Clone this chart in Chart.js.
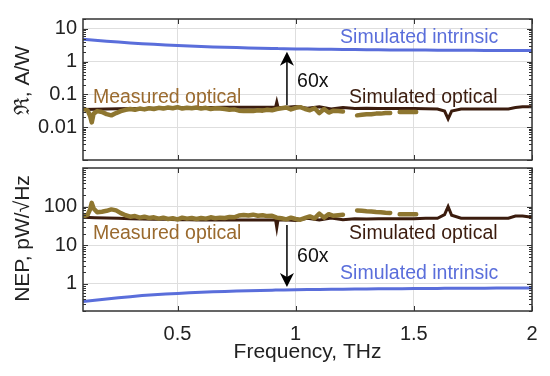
<!DOCTYPE html>
<html>
<head>
<meta charset="utf-8">
<script src="https://cdn.jsdelivr.net/npm/chart.js@4.4.0/dist/chart.umd.min.js"></script>
<style>
  html, body { margin: 0; padding: 0; background: #fff; }
  #wrap { position: relative; width: 550px; height: 376px; }
  canvas { position: absolute; left: 0; }
  #topChart { top: 0; }
  #bottomChart { top: 164px; }
</style>
</head>
<body>
<div id="wrap">
  <canvas id="topChart" width="550" height="164"></canvas>
  <canvas id="bottomChart" width="550" height="212"></canvas>
</div>
<script>
// ---- data ----
var xTickValues = [0.5, 1, 1.5, 2];
var xTickLabels = ['0.5', '1', '1.5', '2'];
var topTickValues = [0.01, 0.1, 1, 10];
var topTickLabels = ['0.01', '0.1', '1', '10'];
var bottomTickValues = [1, 10, 100];
var bottomTickLabels = ['1', '10', '100'];

// simulated curves, frequency in THz
var simFreq = [0.10, 0.15, 0.20, 0.25, 0.30, 0.35, 0.40, 0.45, 0.50, 0.55, 0.60, 0.65, 0.70, 0.75, 0.80,
  0.85, 0.90, 0.915, 0.92, 0.925, 0.95, 1.00, 1.05, 1.10, 1.15, 1.20, 1.25, 1.30, 1.35, 1.40, 1.45,
  1.50, 1.55, 1.60, 1.63, 1.645, 1.66, 1.70, 1.75, 1.80, 1.85, 1.90, 1.93, 1.96, 2.00];
var simIntrinsicR = [4.85, 4.5, 4.2, 3.95, 3.72, 3.53, 3.37, 3.23, 3.1, 2.99, 2.9, 2.82, 2.75, 2.68, 2.62,
  2.57, 2.52, 2.51, 2.51, 2.5, 2.48, 2.45, 2.42, 2.39, 2.37, 2.35, 2.33, 2.31, 2.3, 2.28, 2.27,
  2.26, 2.25, 2.24, 2.235, 2.23, 2.23, 2.22, 2.21, 2.2, 2.2, 2.19, 2.19, 2.18, 2.18];
var simOpticalR = [0.035, 0.0355, 0.036, 0.0365, 0.037, 0.0375, 0.038, 0.0385, 0.039, 0.0395, 0.04, 0.04, 0.0405, 0.041, 0.041,
  0.041, 0.0405, 0.041, 0.058, 0.041, 0.04, 0.043, 0.038, 0.042, 0.036, 0.04, 0.037, 0.038, 0.037, 0.0375, 0.037,
  0.037, 0.0365, 0.036, 0.031, 0.018, 0.031, 0.036, 0.036, 0.036, 0.036, 0.036, 0.04, 0.042, 0.042];
var simIntrinsicNep = [0.35, 0.38, 0.41, 0.44, 0.47, 0.50, 0.53, 0.55, 0.57, 0.59, 0.61, 0.625, 0.64, 0.655, 0.67,
  0.68, 0.69, 0.695, 0.695, 0.697, 0.70, 0.71, 0.72, 0.725, 0.73, 0.735, 0.74, 0.745, 0.75, 0.755, 0.758,
  0.76, 0.765, 0.768, 0.77, 0.77, 0.772, 0.775, 0.777, 0.78, 0.782, 0.784, 0.785, 0.786, 0.788];
var simOpticalNep = [53, 52, 51, 50, 49, 48, 47.5, 47, 46, 46, 45.5, 45.5, 45, 45, 45,
  45, 45.5, 45, 29, 45, 46, 44, 50, 45, 51, 46, 49, 48, 49, 49, 49,
  49, 50, 50, 62, 100, 60, 50, 50, 50, 50, 50, 57, 57, 53];

// measured curves (null = gap in the measurement)
var measFreq = [0.10, 0.12, 0.13, 0.137, 0.145, 0.16, 0.18, 0.20, 0.22, 0.24, 0.26, 0.28, 0.30, 0.32, 0.34,
  0.36, 0.38, 0.40, 0.42, 0.44, 0.46, 0.48, 0.50, 0.52, 0.54, 0.56, 0.58, 0.60, 0.62, 0.64, 0.66,
  0.68, 0.70, 0.72, 0.74, 0.76, 0.78, 0.80, 0.82, 0.84, 0.86, 0.88, 0.90, 0.92, 0.94, 0.96, 0.98,
  1.00, 1.02, 1.04, 1.06, 1.08, 1.10, 1.12, 1.14, 1.16, 1.18, 1.20, 1.22, 1.24, 1.26, 1.28, 1.30,
  1.32, 1.34, 1.36, 1.38, 1.40, 1.42, 1.44, 1.46, 1.48, 1.50, 1.51];
var measOpticalR = [0.037, 0.032, 0.022, 0.014, 0.026, 0.031, 0.029, 0.025, 0.023, 0.027, 0.031, 0.034, 0.036, 0.034, 0.037,
  0.035, 0.038, 0.036, 0.039, 0.037, 0.040, 0.038, 0.041, 0.037, 0.039, 0.038, 0.040, 0.037, 0.039, 0.036, 0.038,
  0.037, 0.036, 0.034, 0.035, 0.032, 0.031, 0.032, 0.031, 0.033, 0.032, 0.034, 0.033, 0.036, 0.038, 0.040, 0.035,
  0.039, 0.041, 0.036, 0.033, 0.038, 0.027, 0.036, 0.028, 0.032, 0.031, 0.030, null, null, 0.023, 0.024, 0.025,
  0.025, 0.026, 0.026, 0.027, 0.027, null, 0.029, 0.029, 0.029, 0.029, 0.029];
var measOpticalNep = [55, 62, 85, 125, 90, 72, 74, 78, 85, 80, 68, 60, 55, 57, 52,
  55, 51, 53, 49, 52, 48, 50, 47, 52, 49, 51, 48, 51, 49, 53, 50,
  52, 51, 54, 53, 59, 61, 59, 62, 58, 60, 57, 58, 52, 50, 47, 52,
  48, 46, 51, 56, 50, 66, 52, 64, 58, 60, 62, null, null, 80, 78, 76,
  75, 73, 72, 70, 69, null, 64, 64, 64, 64, 64];

// ---- styles ----
var FONT = '"Liberation Sans", Arial, sans-serif';
var AXIS_COLOR = '#333333';
var GRID_COLOR = '#dedede';
var BLUE = '#5a6edb';
var DARK = '#3b1c0e';
var OLIVE = '#8e7630';
var MEAS_TEXT = '#9a6a2e';

function pts(xs, ys) {
  return xs.map(function (x, i) { return { x: x, y: ys[i] }; });
}

function line(ctx, x1, y1, x2, y2) {
  ctx.beginPath(); ctx.moveTo(x1, y1); ctx.lineTo(x2, y2); ctx.stroke();
}

// frame, inner ticks, arrow, labels and axis titles
var panelDecor = {
  id: 'panelDecor',
  afterDatasetsDraw: function (chart, args, opts) {
    var ctx = chart.ctx, a = chart.chartArea;
    var xs = chart.scales.x, ys = chart.scales.y;
    ctx.save();
    ctx.strokeStyle = AXIS_COLOR;
    ctx.lineWidth = 1;
    var lo = Math.floor(Math.log10(ys.min)), hi = Math.ceil(Math.log10(ys.max));
    for (var e = lo; e <= hi; e++) {
      for (var m = 1; m <= 9; m++) {
        var v = m * Math.pow(10, e);
        if (v < ys.min * 0.999 || v > ys.max) continue;
        var py = Math.round(ys.getPixelForValue(v)) + 0.5;
        var len = m === 1 ? 5 : 3;
        line(ctx, a.left, py, a.left + len, py);
        line(ctx, a.right - len, py, a.right, py);
      }
    }
    xTickValues.forEach(function (v) {
      var px = Math.round(xs.getPixelForValue(v)) + 0.5;
      line(ctx, px, a.top, px, a.top + 5);
      line(ctx, px, a.bottom - 5, px, a.bottom);
    });
    ctx.lineWidth = 1.5;
    ctx.strokeRect(a.left, a.top, a.right - a.left, a.bottom - a.top);

    // arrow
    var ar = opts.arrow;
    var ax = xs.getPixelForValue(ar.x);
    var y0 = ys.getPixelForValue(ar.from), y1 = ys.getPixelForValue(ar.to);
    var dir = y1 < y0 ? 1 : -1;
    ctx.strokeStyle = '#000';
    ctx.lineWidth = 1.5;
    line(ctx, ax, y0, ax, y1 + dir * 8);
    ctx.fillStyle = '#000';
    ctx.beginPath();
    ctx.moveTo(ax, y1);
    ctx.lineTo(ax - 7, y1 + dir * 14);
    ctx.lineTo(ax, y1 + dir * 10);
    ctx.lineTo(ax + 7, y1 + dir * 14);
    ctx.closePath();
    ctx.fill();

    // text labels, anchored in data coordinates (left edge, baseline)
    ctx.textAlign = 'left';
    ctx.textBaseline = 'alphabetic';
    opts.labels.forEach(function (lb) {
      ctx.font = '19.5px ' + FONT;
      ctx.fillStyle = lb.color;
      ctx.fillText(lb.text, xs.getPixelForValue(lb.x), ys.getPixelForValue(lb.y));
    });

    // y axis title
    ctx.save();
    ctx.translate(opts.yTitle.x, (a.top + a.bottom) / 2 + opts.yTitle.dy);
    ctx.rotate(-Math.PI / 2);
    ctx.textAlign = 'center';
    ctx.textBaseline = 'middle';
    ctx.fillStyle = '#222';
    ctx.font = '21px ' + FONT;
    ctx.fillText(opts.yTitle.text, 0, 0);
    ctx.restore();

    if (opts.xTitle) {
      ctx.textAlign = 'center';
      ctx.textBaseline = 'middle';
      ctx.fillStyle = '#222';
      ctx.font = '21px ' + FONT;
      ctx.fillText(opts.xTitle.text, (a.left + a.right) / 2, a.bottom + opts.xTitle.dy);
    }
    ctx.restore();
  }
};

function makeChart(id, cfg) {
  var ctx = document.getElementById(id).getContext('2d');
  return new Chart(ctx, {
    type: 'line',
    data: {
      datasets: [{
        label: 'Measured optical',
        data: pts(measFreq, cfg.meas),
        borderColor: OLIVE,
        borderWidth: 4.5,
        borderCapStyle: 'round',
        borderJoinStyle: 'round',
        spanGaps: false
      }, {
        label: 'Simulated optical',
        data: pts(simFreq, cfg.simOpt),
        borderColor: DARK,
        borderWidth: 3
      }, {
        label: 'Simulated intrinsic',
        data: pts(simFreq, cfg.simInt),
        borderColor: BLUE,
        borderWidth: 3
      }]
    },
    options: {
      responsive: false,
      animation: false,
      devicePixelRatio: 1,
      elements: { point: { radius: 0 }, line: { tension: 0 } },
      layout: { padding: cfg.padding },
      plugins: {
        legend: { display: false },
        tooltip: { enabled: false },
        panelDecor: cfg.decor
      },
      scales: {
        x: {
          type: 'linear',
          min: 0.1,
          max: 2,
          afterBuildTicks: function (s) { s.ticks = xTickValues.map(function (v) { return { value: v }; }); },
          afterFit: function (s) { s.height = cfg.xHeight; },
          grid: { color: GRID_COLOR, drawTicks: false },
          border: { display: false },
          ticks: {
            display: cfg.showX,
            padding: 11,
            color: '#222',
            font: { family: FONT, size: 20 },
            maxRotation: 0,
            callback: function (v) { return xTickLabels[xTickValues.indexOf(v)]; }
          }
        },
        y: {
          type: 'logarithmic',
          min: cfg.yMin,
          max: cfg.yMax,
          afterBuildTicks: function (s) { s.ticks = cfg.tickValues.map(function (v) { return { value: v }; }); },
          afterFit: function (s) { s.width = 83; s.paddingTop = 0; s.paddingBottom = 0; },
          grid: { color: GRID_COLOR, drawTicks: false },
          border: { display: false },
          ticks: {
            padding: 6,
            color: '#222',
            font: { family: FONT, size: 20 },
            callback: function (v) {
              var i = cfg.tickValues.indexOf(v);
              return i < 0 ? '' : cfg.tickLabels[i];
            }
          }
        }
      }
    },
    plugins: [panelDecor]
  });
}

makeChart('topChart', {
  meas: measOpticalR, simOpt: simOpticalR, simInt: simIntrinsicR,
  yMin: 0.001, yMax: 20,
  tickValues: topTickValues, tickLabels: topTickLabels,
  padding: { top: 19, right: 18, bottom: 4, left: 0 },
  xHeight: 0, showX: false,
  decor: {
    arrow: { x: 0.963, from: 0.0476, to: 2.01 },
    labels: [
      { text: 'Simulated intrinsic', x: 1.188, y: 3.63, color: BLUE },
      { text: 'Simulated optical', x: 1.226, y: 0.056, color: DARK },
      { text: 'Measured optical', x: 0.142, y: 0.056, color: MEAS_TEXT },
      { text: '60x', x: 1.006, y: 0.169, color: '#111' }
    ],
    yTitle: { text: 'ℜ, A/W', x: 23, dy: -9 }
  }
});

makeChart('bottomChart', {
  meas: measOpticalNep, simOpt: simOpticalNep, simInt: simIntrinsicNep,
  yMin: 0.2, yMax: 1000,
  tickValues: bottomTickValues, tickLabels: bottomTickLabels,
  padding: { top: 4, right: 18, bottom: 0, left: 0 },
  xHeight: 65, showX: true,
  decor: {
    arrow: { x: 0.963, from: 33.6, to: 0.836 },
    labels: [
      { text: 'Measured optical', x: 0.142, y: 14.3, color: MEAS_TEXT },
      { text: 'Simulated optical', x: 1.226, y: 14.3, color: DARK },
      { text: 'Simulated intrinsic', x: 1.188, y: 1.32, color: BLUE },
      { text: '60x', x: 1.006, y: 3.7, color: '#111' }
    ],
    yTitle: { text: 'NEP, pW/√Hz', x: 23, dy: -1 },
    xTitle: { text: 'Frequency, THz', dy: 41 }
  }
});
</script>
</body>
</html>
